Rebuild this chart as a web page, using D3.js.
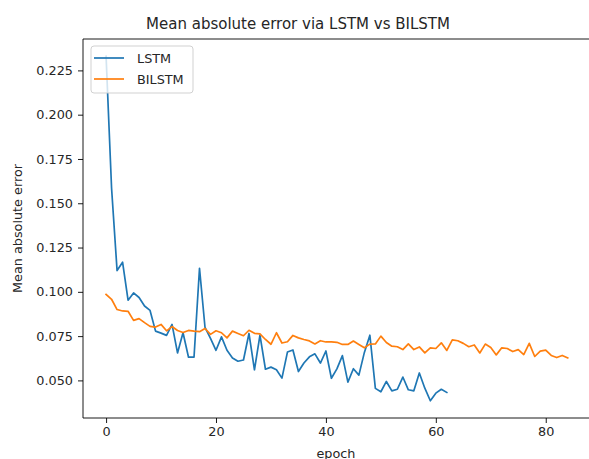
<!DOCTYPE html>
<html><head><meta charset="utf-8">
<script src="https://cdn.jsdelivr.net/npm/d3@7"></script>
<style>body{margin:0;background:#fff;} svg{display:block;} text{font-family:"DejaVu Sans",sans-serif;fill:#262626;}</style>
</head><body>
<svg id="c" width="589" height="459"></svg>
<script>
const lstm = [0.233,0.1585,0.112,0.1167,0.0953,0.0994,0.0968,0.092,0.0895,0.0778,
0.0767,0.0754,0.0816,0.0655,0.0769,0.0631,0.0631,0.1133,0.080,0.0737,
0.067,0.0746,0.067,0.0627,0.0608,0.0615,0.0765,0.056,0.0755,0.0563,
0.0575,0.056,0.0513,0.066,0.0672,0.055,0.0598,0.0633,0.065,0.0598,
0.0666,0.0512,0.0565,0.064,0.049,0.0566,0.053,0.0658,0.0755,0.0455,
0.0436,0.0494,0.0441,0.045,0.0519,0.0447,0.0441,0.0542,0.0456,0.0385,
0.0428,0.045,0.0432];
const bilstm = [0.0985,0.0958,0.09,0.0892,0.089,0.0839,0.0849,0.0826,0.0805,0.0801,
0.0816,0.078,0.0804,0.0782,0.077,0.0782,0.0778,0.0775,0.0793,0.076,
0.078,0.0769,0.074,0.0778,0.0765,0.0752,0.0783,0.0766,0.0763,0.0731,
0.0704,0.0769,0.0711,0.0718,0.0754,0.074,0.0731,0.0723,0.0706,0.0724,
0.0717,0.0717,0.0715,0.0703,0.0703,0.0722,0.0703,0.0684,0.0705,0.0706,
0.075,0.0714,0.0693,0.069,0.0674,0.0706,0.0674,0.0689,0.0655,0.0684,
0.068,0.0712,0.0669,0.0729,0.0724,0.0709,0.069,0.07,0.0655,0.0705,
0.0686,0.0644,0.0684,0.068,0.0663,0.0674,0.0646,0.0709,0.0635,0.0665,
0.0671,0.0641,0.0629,0.0641,0.0627];
const xTicks = [0,20,40,60,80];
const yTicks = [0.050,0.075,0.100,0.125,0.150,0.175,0.200,0.225];
const seriesNames = ["LSTM","BILSTM"];
const colors = ["#1f77b4","#ff7f0e"];

const svg = d3.select("#c");
const L = 83, T = 39, B = 418, R = 590.8;
const xmax = bilstm.length - 1;
const x = d3.scaleLinear().domain([-0.05*xmax, xmax*1.05]).range([L, R]);
const all = lstm.concat(bilstm);
const lo = d3.min(all), hi = d3.max(all), rg = hi - lo;
const y = d3.scaleLinear().domain([lo - 0.05*rg, hi + 0.05*rg]).range([B, T]);

// lines
const line = d3.line().x((d,i)=>x(i)).y(d=>y(d));
[lstm, bilstm].forEach((s,k)=>{
  svg.append("path").datum(s).attr("d", line).attr("fill","none")
    .attr("stroke", colors[k]).attr("stroke-width",1.7).attr("stroke-linejoin","round").attr("stroke-linecap","square");
});

// axes
const fs = 12.8;
const xa = svg.append("g").attr("transform",`translate(0,${B})`)
  .call(d3.axisBottom(x).tickValues(xTicks).tickSize(5).tickPadding(4).tickFormat(d3.format("d")));
const ya = svg.append("g").attr("transform",`translate(${L},0)`)
  .call(d3.axisLeft(y).tickValues(yTicks).tickSize(5).tickPadding(5).tickFormat(d3.format(".3f")));
[xa,ya].forEach(a=>{
  a.select(".domain").remove();
  a.selectAll("line").attr("stroke","#000").attr("stroke-width",0.9);
  a.selectAll("text").attr("font-size",fs).attr("fill","#262626").attr("font-family","DejaVu Sans");
});
// spines
svg.append("line").attr("x1",L).attr("x2",L).attr("y1",T).attr("y2",B).attr("stroke","#000").attr("stroke-width",0.9);
svg.append("line").attr("x1",L).attr("x2",R).attr("y1",B).attr("y2",B).attr("stroke","#000").attr("stroke-width",0.9);
svg.append("line").attr("x1",L).attr("x2",R).attr("y1",T).attr("y2",T).attr("stroke","#000").attr("stroke-width",0.9);

// title & labels
svg.append("text").attr("x",298).attr("y",29).attr("text-anchor","middle").attr("font-size",15).text("Mean absolute error via LSTM vs BILSTM");
svg.append("text").attr("x",336).attr("y",458).attr("text-anchor","middle").attr("font-size",fs).text("epoch");
svg.append("text").attr("transform",`translate(22,${(T+B)/2}) rotate(-90)`).attr("text-anchor","middle").attr("font-size",fs).text("Mean absolute error");

// legend
const lg = svg.append("g");
lg.append("rect").attr("x",91).attr("y",46).attr("width",102).attr("height",47).attr("rx",3)
  .attr("fill","#fff").attr("fill-opacity",0.8).attr("stroke","#ccc").attr("stroke-width",0.9);
seriesNames.forEach((n,k)=>{
  const yy = 58 + k*21;
  lg.append("line").attr("x1",94).attr("x2",124).attr("y1",yy).attr("y2",yy).attr("stroke",colors[k]).attr("stroke-width",1.7);
  lg.append("text").attr("x",137).attr("y",yy+4.5).attr("font-size",fs).text(n);
});
</script>
</body></html>
